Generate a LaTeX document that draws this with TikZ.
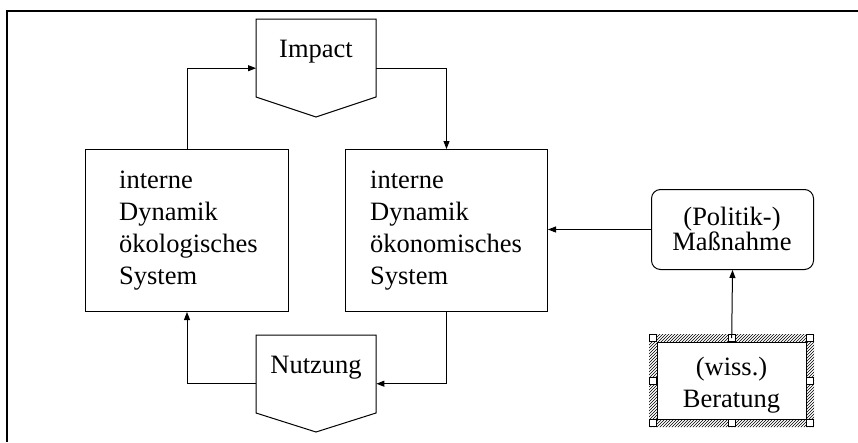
\documentclass[tikz,border=0pt]{standalone}
\usepackage{fontspec}
\setmainfont{Liberation Serif}
\usetikzlibrary{arrows.meta,patterns}
\tikzset{
  box/.style={draw, line width=1pt, rectangle, inner sep=0pt},
  ghost/.style={rectangle, inner sep=0pt},
  arr/.style={line width=1pt, -{Triangle[length=8pt,width=6pt]}},
  txt/.style={font=\fontsize{26.5}{32}\selectfont, inner sep=0pt},
  handle/.style={draw, fill=white, line width=0.8pt},
}
\begin{document}
\begin{tikzpicture}[x=1pt,y=-1pt]
\useasboundingbox (0,0) rectangle (858,442);
% frame
\draw[line width=2.6pt] (7,442) -- (7,11) -- (858,11);

% Impact
\node[ghost, minimum width=120pt, minimum height=98pt, anchor=north west] (imp) at (256,19) {};
\draw[line width=1pt] (256,19) -- (376,19) -- (376,97) -- (316,117) -- (256,97) -- cycle;
\node[txt, anchor=base] (impt) at (316,57) {Impact};

% Nutzung
\node[ghost, minimum width=120pt, minimum height=97pt, anchor=north west] (nutz) at (256,335) {};
\draw[line width=1pt] (256,335) -- (376,335) -- (376,413) -- (316,432) -- (256,413) -- cycle;
\node[txt, anchor=base] (nutzt) at (316,373) {Nutzung};

% left box
\node[box, minimum width=203pt, minimum height=162pt, anchor=north west] (lb) at (85,149) {};
\node[txt, anchor=base west] (lb1) at (119,188) {interne};
\node[txt, anchor=base west] (lb2) at (119,220) {Dynamik};
\node[txt, anchor=base west] (lb3) at (119,252) {ökologisches};
\node[txt, anchor=base west] (lb4) at (119,284) {System};

% right box
\node[box, minimum width=202pt, minimum height=162pt, anchor=north west] (rb) at (345,149) {};
\node[txt, anchor=base west] (rb1) at (370,188) {interne};
\node[txt, anchor=base west] (rb2) at (370,220) {Dynamik};
\node[txt, anchor=base west] (rb3) at (370,252) {ökonomisches};
\node[txt, anchor=base west] (rb4) at (370,284) {System};

% Politik
\node[box, rounded corners=9pt, minimum width=162pt, minimum height=80pt, anchor=north west] (pol) at (651,189) {};
\node[txt, anchor=base] (pol1) at (732,225) {(Politik-)};
\node[txt, anchor=base] (pol2) at (732,250) {Maßnahme};

% Beratung
\node[ghost, minimum width=157pt, minimum height=85pt, anchor=north west] (ber) at (653,338) {};
\fill[pattern=north east lines, even odd rule] (649,334) rectangle (814,427) (657,342) rectangle (806,419);
\draw[line width=0.8pt] (657,342) rectangle (806,419);
\foreach \hx/\hy in {653/338, 731.5/338, 810/338, 653/380.5, 810/380.5, 653/423, 731.5/423, 810/423}
  \draw[handle] (\hx-3.5,\hy-3.5) rectangle ++(7,7);
\node[txt, anchor=base] (ber1) at (731.5,375) {(wiss.)};
\node[txt, anchor=base] (ber2) at (731.5,407) {Beratung};

% connectors
\draw[arr] (lb.north) |- (imp.west);
\draw[arr] (imp.east) -| (rb.north);
\draw[arr] (rb.south) |- (nutz.east);
\draw[arr] (nutz.west) -| (lb.south);
\draw[arr] (pol.west) -- (rb.east |- pol.west);
\draw[arr] (ber.north) -- (pol.south);
\end{tikzpicture}
\end{document}
